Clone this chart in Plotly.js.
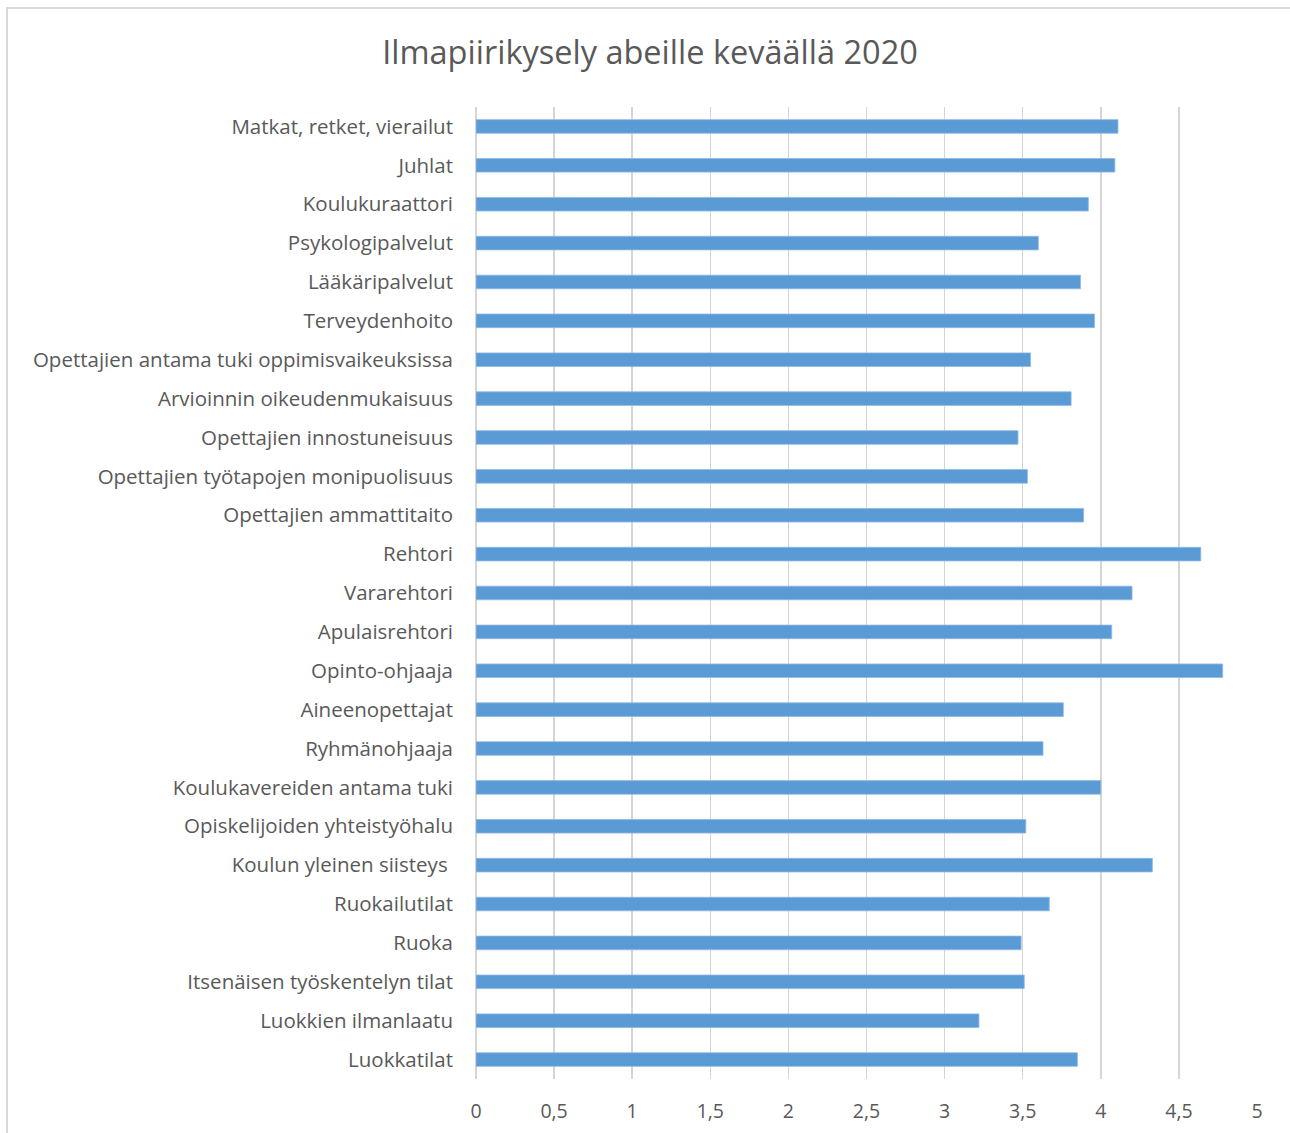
<!DOCTYPE html>
<html>
<head>
<meta charset="utf-8">
<script src="https://cdn.plot.ly/plotly-3.0.1.min.js"></script>
<style>
  html, body { margin: 0; padding: 0; background: #fff; overflow: hidden; }
  #frame { position: absolute; left: 6px; top: 7px; width: 1300px; height: 1140px; border: 2px solid #D9D9D9; box-sizing: border-box; }
  #chart { position: absolute; left: 0; top: 0; width: 1290px; height: 1133px; }
</style>
</head>
<body>
<div id="frame"></div>
<div id="chart"></div>
<script>
const categories = [
  "Matkat, retket, vierailut",
  "Juhlat",
  "Koulukuraattori",
  "Psykologipalvelut",
  "Lääkäripalvelut",
  "Terveydenhoito",
  "Opettajien antama tuki oppimisvaikeuksissa",
  "Arvioinnin oikeudenmukaisuus",
  "Opettajien innostuneisuus",
  "Opettajien työtapojen monipuolisuus",
  "Opettajien ammattitaito",
  "Rehtori",
  "Vararehtori",
  "Apulaisrehtori",
  "Opinto-ohjaaja",
  "Aineenopettajat",
  "Ryhmänohjaaja",
  "Koulukavereiden antama tuki",
  "Opiskelijoiden yhteistyöhalu",
  "Koulun yleinen siisteys\u00a0",
  "Ruokailutilat",
  "Ruoka",
  "Itsenäisen työskentelyn tilat",
  "Luokkien ilmanlaatu",
  "Luokkatilat"
];
const values = [
  4.11, 4.09, 3.92, 3.60, 3.87, 3.96, 3.55, 3.81, 3.47, 3.53, 3.89,
  4.64, 4.20, 4.07, 4.78, 3.76, 3.63, 4.00, 3.52, 4.33, 3.67, 3.49,
  3.51, 3.22, 3.85
];
const xTicks = [0, 0.5, 1, 1.5, 2, 2.5, 3, 3.5, 4, 4.5, 5];
const titleText = "Ilmapiirikysely abeille keväällä 2020";

const trace = {
  type: 'bar',
  orientation: 'h',
  x: values,
  y: categories,
  marker: { color: '#5B9BD5', line: { color: '#8DB9E4', width: 0.8 } },
  hoverinfo: 'x+y'
};

const layout = {
  width: 1290,
  height: 1133,
  paper_bgcolor: 'rgba(0,0,0,0)',
  plot_bgcolor: 'rgba(0,0,0,0)',
  separators: ', ',
  margin: { l: 476, r: 33, t: 107, b: 54, pad: 0 },
  bargap: 0.65,
  showlegend: false,
  font: { family: 'Open Sans, sans-serif', color: '#595959' },
  title: {
    text: titleText,
    xref: 'container', yref: 'container',
    x: 650 / 1290, xanchor: 'center',
    y: 1 - 53 / 1133, yanchor: 'middle',
    font: { family: 'Open Sans, sans-serif', size: 32.5, color: '#595959' }
  },
  xaxis: {
    range: [0, 5],
    tickvals: xTicks,
    showgrid: true,
    gridcolor: '#D5D5D5',
    gridwidth: 1.5,
    zeroline: true,
    zerolinecolor: '#D5D5D5',
    zerolinewidth: 1.5,
    showline: false,
    ticks: '',
    ticklabelstandoff: 18,
    tickfont: { family: 'Open Sans, sans-serif', size: 19.5, color: '#595959' },
    fixedrange: true
  },
  yaxis: {
    type: 'category',
    range: [24.5, -0.5],
    showgrid: false,
    zeroline: false,
    showline: false,
    ticks: '',
    ticklabelstandoff: 22,
    tickfont: { family: 'Open Sans, sans-serif', size: 20.5, color: '#595959' },
    fixedrange: true
  }
};

Plotly.newPlot('chart', [trace], layout, { displayModeBar: false, staticPlot: true });
</script>
</body>
</html>
